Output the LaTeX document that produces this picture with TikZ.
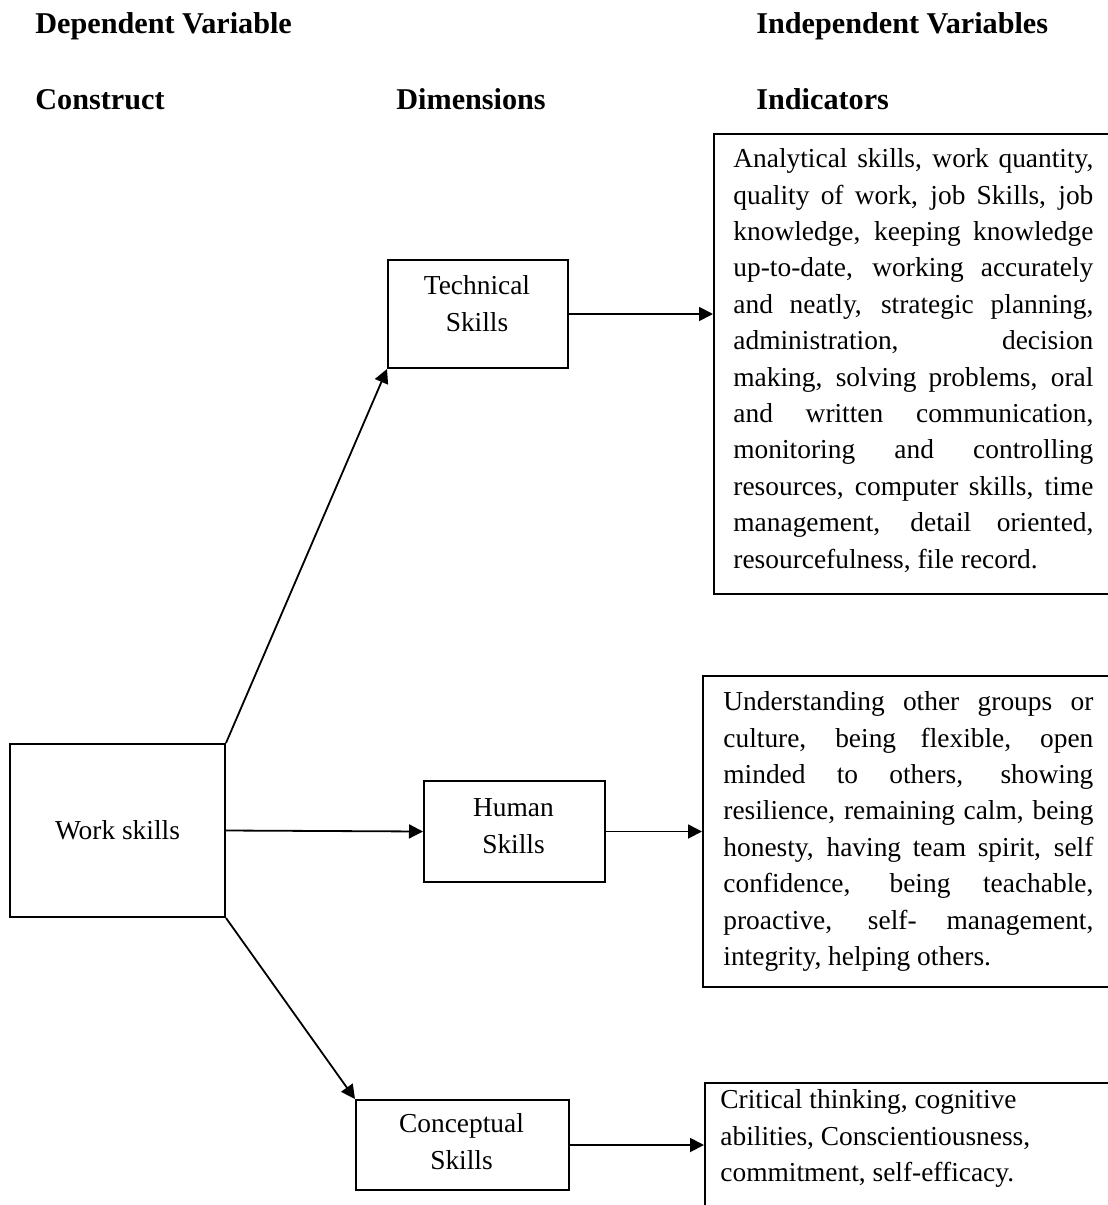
\documentclass[tikz,border=0pt]{standalone}
\usepackage{fontspec}
\setmainfont{Liberation Serif}
\usetikzlibrary{arrows.meta,calc}

\tikzset{
  box/.style={draw, line width=1pt, inner sep=0pt, anchor=north west},
  body/.style={font=\fontsize{13.7pt}{18.2pt}\selectfont, inner sep=0pt},
  head/.style={font=\fontsize{15.1pt}{18pt}\selectfont\bfseries, inner sep=0pt, anchor=base west},
  arr/.style={-{Triangle[length=7pt,width=7pt]}, line width=0.9pt},
  para/.style={body, anchor=north west, align=justify,
    execute at begin node={\hyphenpenalty=10000\exhyphenpenalty=10000\tolerance=10000}}
}

\begin{document}
\begin{tikzpicture}[x=0.5pt,y=-0.5pt]
\useasboundingbox (0,0) rectangle (1108,1205);
\clip (0,0) rectangle (1108,1205);

% column headings
\node[head] (hdep) at (35,33) {Dependent Variable};
\node[head] (hind) at (756,33) {Independent Variables};
\node[head] (hcon) at (35,109) {Construct};
\node[head] (hdim) at (396,109) {Dimensions};
\node[head] (hidc) at (756,109) {Indicators};

% construct
\node[box, body, minimum width=107.5pt, minimum height=86.5pt, anchor=center]
  (ws) at (117.5,830.5) {Work skills};

% dimensions
\node[box, minimum width=90pt, minimum height=54pt] (tech) at (387,259) {};
\node[body, anchor=north, align=center] (techtxt) at (477,275.3) {Technical\\Skills};

\node[box, minimum width=90.5pt, minimum height=50.5pt] (hum) at (423,780) {};
\node[body, anchor=north, align=center] (humtxt) at (513.5,798.3) {Human\\Skills};

\node[box, minimum width=106.5pt, minimum height=45pt] (con) at (355,1099) {};
\node[body, anchor=north, align=center] (contxt) at (461.5,1113.3) {Conceptual\\Skills};

% indicators
\node[box, minimum width=200pt, minimum height=230pt] (techind) at (713,133) {};
\node[para, text width=180pt] (techindtxt) at (733,148.3) {%
Analytical skills, work quantity,\linebreak
quality of work, job Skills, job\linebreak
knowledge, keeping knowledge\linebreak
up-to-date, working accurately\linebreak
and neatly, strategic planning,\linebreak
administration, decision\linebreak
making, solving problems, oral\linebreak
and written communication,\linebreak
monitoring and controlling\linebreak
resources, computer skills, time\linebreak
management, detail oriented,\linebreak
resourcefulness, file record.};

\node[box, minimum width=205.5pt, minimum height=155.5pt] (humind) at (702,675) {};
\node[para, text width=185pt] (humindtxt) at (723,691.3) {%
Understanding other groups or\linebreak
culture, being flexible, open\linebreak
minded to others, showing\linebreak
resilience, remaining calm, being\linebreak
honesty, having team spirit, self\linebreak
confidence, being teachable,\linebreak
proactive, self- management,\linebreak
integrity, helping others.};

\node[box, minimum width=204.5pt, minimum height=75pt] (conind) at (704,1082) {};
\node[body, anchor=north west, align=left] (conindtxt) at (720,1089.3) {%
Critical thinking, cognitive\\
abilities, Conscientiousness,\\
commitment, self-efficacy.};

% connectors
\draw[arr] (ws.north east) -- (tech.south west);
\draw[arr] (ws.east) -- (hum.west);
\draw[arr] (ws.south east) -- (con.north west);
\draw[arr] (tech.east) -- (tech.east -| techind.west);
\draw[arr] (hum.east) -- (hum.east -| humind.west);
\draw[arr] (con.east) -- (con.east -| conind.west);
\end{tikzpicture}
\end{document}
